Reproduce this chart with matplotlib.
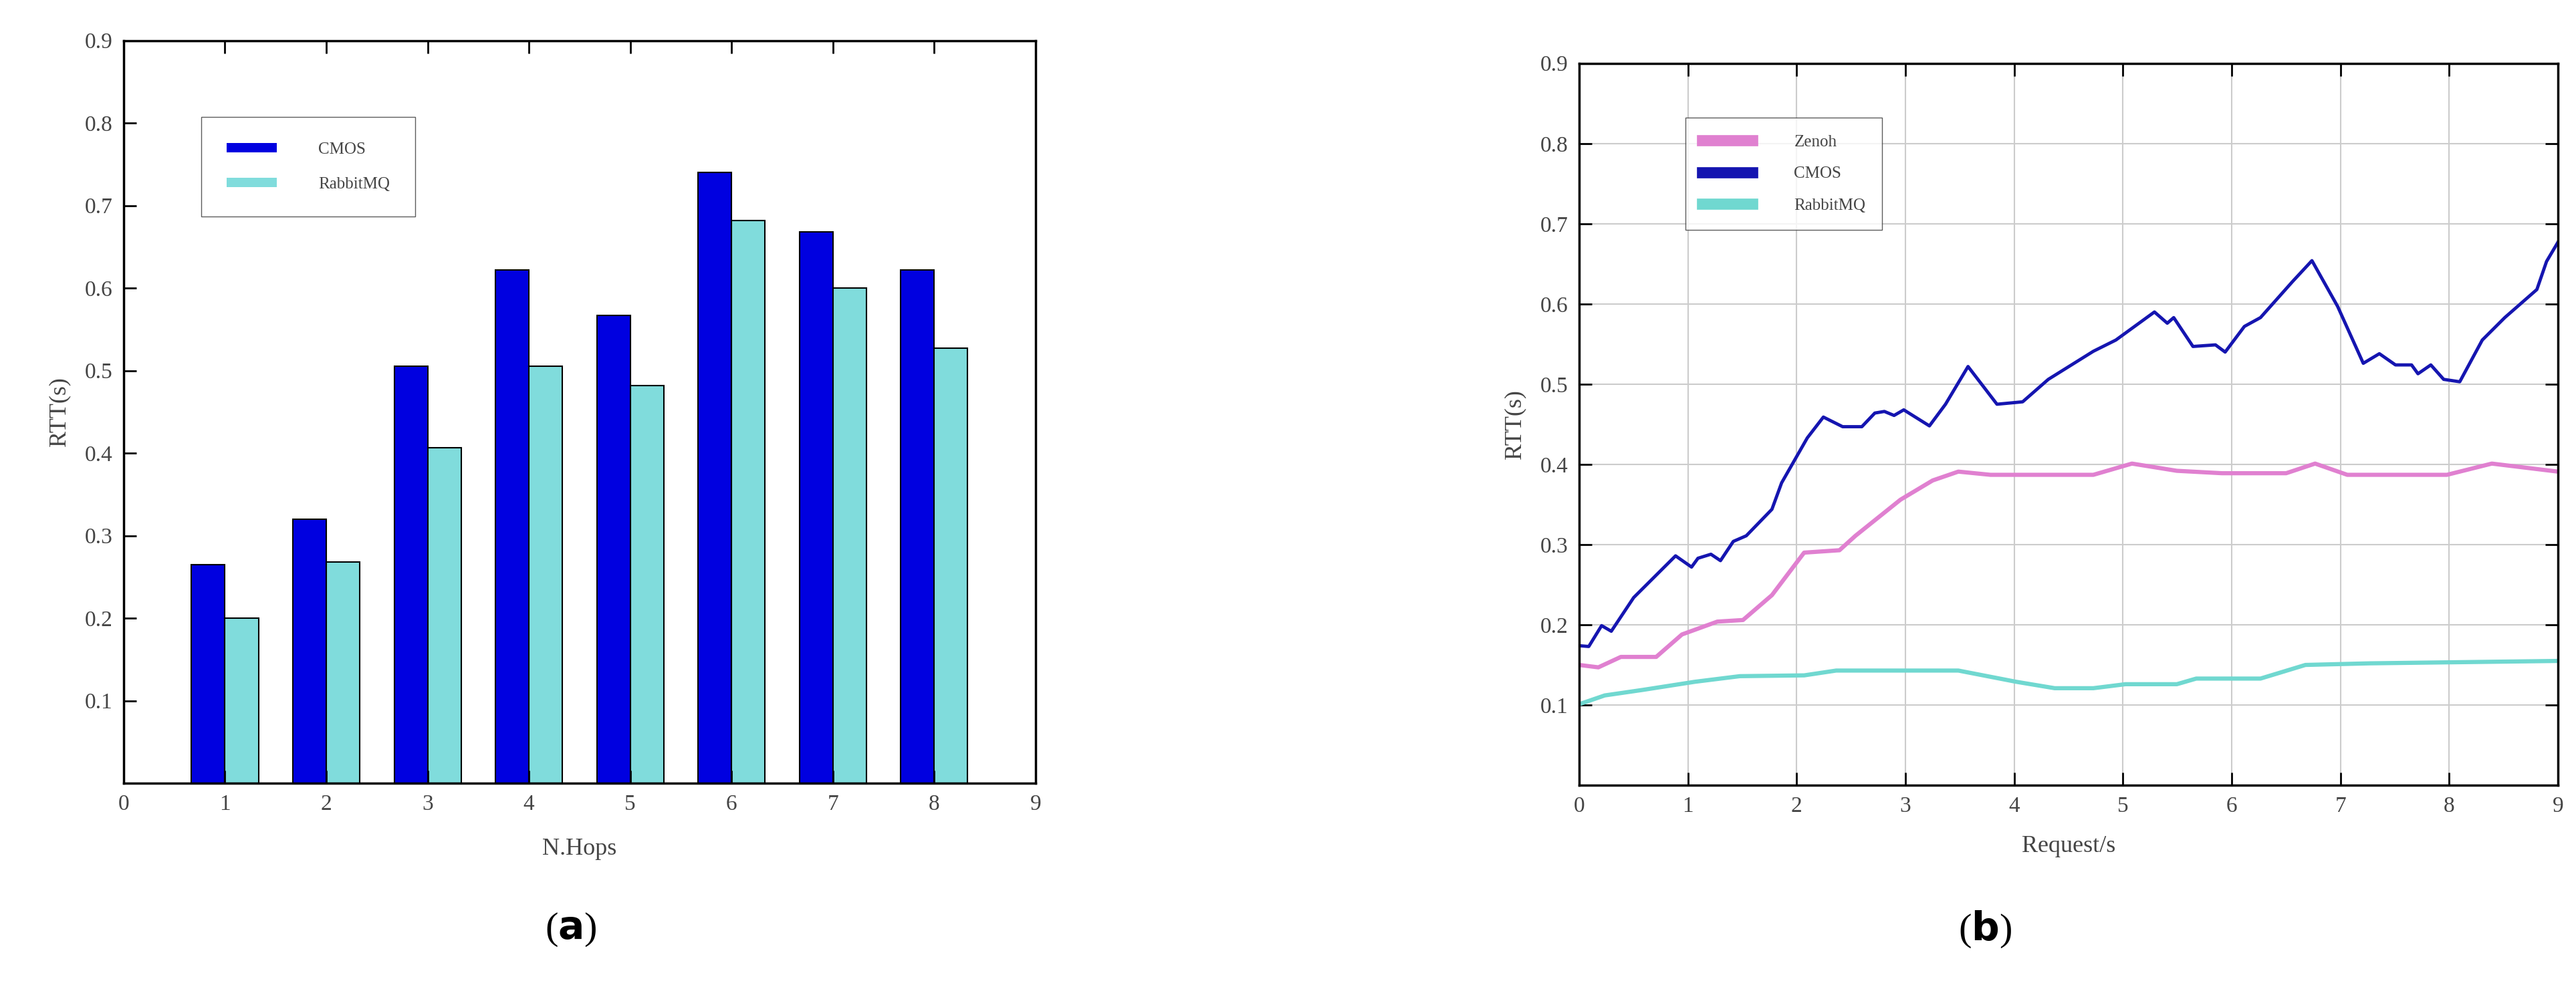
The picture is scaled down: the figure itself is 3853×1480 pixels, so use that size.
import matplotlib
matplotlib.use("Agg")
import matplotlib.pyplot as plt
import numpy as np

hops = [1, 2, 3, 4, 5, 6, 7, 8]
cmos_bar = [0.265, 0.32, 0.505, 0.622, 0.567, 0.74, 0.668, 0.622]
rabbit_bar = [0.2, 0.268, 0.407, 0.505, 0.482, 0.682, 0.6, 0.527]

cmos_x = [0, 0.089, 0.207, 0.296, 0.502, 0.887, 1.034, 1.093, 1.212, 1.300, 1.418, 1.537, 1.773, 1.862,
          2.098, 2.246, 2.423, 2.600, 2.719, 2.807, 2.896, 2.985, 3.221, 3.369, 3.576, 3.842, 4.078, 4.314,
          4.728, 4.935, 5.290, 5.408, 5.467, 5.644, 5.851, 5.940, 6.117, 6.265, 6.560, 6.738, 6.974, 7.210,
          7.358, 7.506, 7.654, 7.713, 7.831, 7.949, 8.097, 8.304, 8.511, 8.806, 8.895, 9.0]
cmos_y = [0.174, 0.173, 0.199, 0.192, 0.234, 0.286, 0.272, 0.283, 0.288, 0.28, 0.304, 0.311, 0.344, 0.377,
          0.433, 0.459, 0.447, 0.447, 0.464, 0.466, 0.461, 0.468, 0.448, 0.475, 0.522, 0.475, 0.478, 0.506,
          0.541, 0.555, 0.590, 0.576, 0.583, 0.547, 0.549, 0.54, 0.572, 0.583, 0.628, 0.654, 0.597, 0.526,
          0.538, 0.524, 0.524, 0.513, 0.524, 0.506, 0.503, 0.555, 0.583, 0.618, 0.653, 0.677]
zenoh_x = [0, 0.177, 0.384, 0.709, 0.946, 1.271, 1.507, 1.773, 2.069, 2.394, 2.541, 2.955, 3.251, 3.487,
           3.783, 4.728, 5.083, 5.496, 5.91, 6.501, 6.767, 7.063, 7.979, 8.392, 9.0]
zenoh_y = [0.15, 0.147, 0.16, 0.16, 0.188, 0.204, 0.206, 0.237, 0.29, 0.293, 0.311, 0.356, 0.38, 0.391,
           0.387, 0.387, 0.401, 0.392, 0.389, 0.389, 0.401, 0.387, 0.387, 0.401, 0.391]
rabbit_x = [0, 0.236, 0.591, 1.064, 1.478, 2.069, 2.364, 3.487, 4.019, 4.373, 4.728, 5.024, 5.496, 5.674,
            6.265, 6.678, 7.27, 9.0]
rabbit_y = [0.101, 0.112, 0.119, 0.129, 0.136, 0.137, 0.143, 0.143, 0.129, 0.121, 0.121, 0.126, 0.126,
            0.133, 0.133, 0.15, 0.152, 0.155]

serif = ['Liberation Serif', 'DejaVu Serif']
tc = '#444444'
fig = plt.figure(figsize=(38.53, 14.8), dpi=100)

# (a)
ax1 = fig.add_axes([0.048, 0.208, 0.354, 0.751])
w = 0.33
ax1.bar(np.array(hops) - w / 2, cmos_bar, w, color='#0000e0', edgecolor='black', linewidth=1.5, label='CMOS')
ax1.bar(np.array(hops) + w / 2, rabbit_bar, w, color='#80dcdc', edgecolor='black', linewidth=1.5, label='RabbitMQ')
ax1.set_xlim(0, 9)
ax1.set_ylim(0, 0.9)
ax1.set_xticks(range(10))
ax1.set_yticks([0.1, 0.2, 0.3, 0.4, 0.5, 0.6, 0.7, 0.8, 0.9])
ax1.set_yticklabels(['0.1', '0.2', '0.3', '0.4', '0.5', '0.6', '0.7', '0.8', '0.9'])
ax1.set_xlabel('N.Hops', fontsize=26, family=serif, color=tc, labelpad=25)
ax1.set_ylabel('RTT(s)', fontsize=26, family=serif, color=tc, labelpad=15)
ax1.tick_params(direction='in', length=14, width=2, top=True, labelsize=24, colors='black', labelcolor=tc, pad=12)
leg1 = ax1.legend(loc='upper left', bbox_to_anchor=(0.076, 0.908), prop={'family': serif, 'size': 18},
                  frameon=True, fancybox=False, edgecolor='#333333', borderpad=1.5, labelspacing=1.2,
                  handlelength=3, handleheight=0.5, handletextpad=2.5)
for t in leg1.get_texts():
    t.set_color(tc)
for h in leg1.legend_handles:
    h.set_edgecolor('none')

# (b)
ax2 = fig.add_axes([0.613, 0.206, 0.38, 0.73])
ax2.plot(zenoh_x, zenoh_y, color='#e080d0', lw=4.5, label='Zenoh')
ax2.plot(cmos_x, cmos_y, color='#1515b0', lw=3.5, label='CMOS')
ax2.plot(rabbit_x, rabbit_y, color='#70d8d0', lw=4.5, label='RabbitMQ')
ax2.set_xlim(0, 9)
ax2.set_ylim(0, 0.9)
ax2.set_xticks(range(10))
ax2.set_yticks([0.1, 0.2, 0.3, 0.4, 0.5, 0.6, 0.7, 0.8, 0.9])
ax2.set_yticklabels(['0.1', '0.2', '0.3', '0.4', '0.5', '0.6', '0.7', '0.8', '0.9'])
ax2.grid(True, color='#cccccc', lw=1.5)
ax2.set_xlabel('Request/s', fontsize=26, family=serif, color=tc, labelpad=20)
ax2.set_ylabel('RTT(s)', fontsize=26, family=serif, color=tc, labelpad=15)
ax2.tick_params(direction='in', length=14, width=2, right=True, top=True, labelsize=24, labelcolor=tc, pad=12)
leg2 = ax2.legend(loc='upper left', bbox_to_anchor=(0.1, 0.936), prop={'family': serif, 'size': 18},
                  frameon=True, fancybox=False, edgecolor='#333333', borderpad=1.0, labelspacing=1.0,
                  handlelength=3, handletextpad=2.5)
for t in leg2.get_texts():
    t.set_color(tc)
for l in leg2.get_lines():
    l.set_linewidth(12)

for ax in (ax1, ax2):
    for lab in ax.get_xticklabels() + ax.get_yticklabels():
        lab.set_family(serif)
    for s in ax.spines.values():
        s.set_linewidth(2.5)

fig.text(0.2215, 0.06, r'($\mathbf{a}$)', fontsize=42, ha='center', va='center', family='Liberation Serif')
fig.text(0.7705, 0.06, r'($\mathbf{b}$)', fontsize=42, ha='center', va='center', family='Liberation Serif')

fig.savefig('out.png', dpi=100)
